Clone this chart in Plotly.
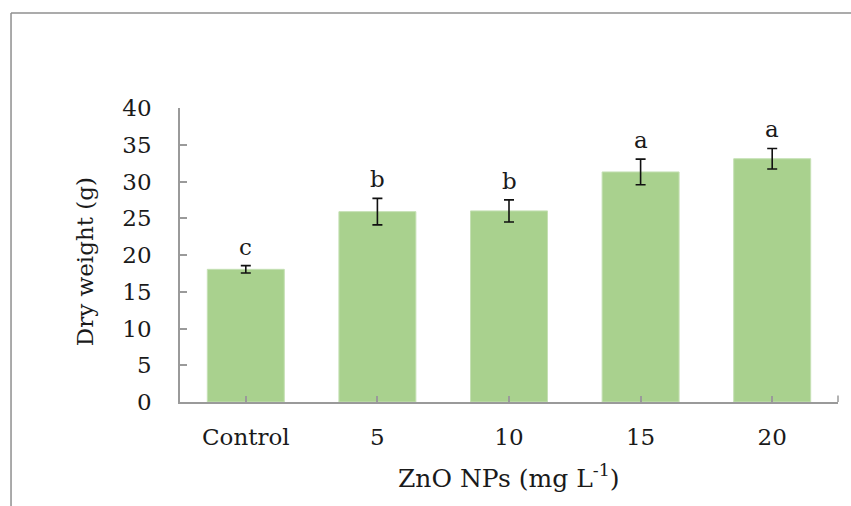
import plotly.graph_objects as go

categories = ["Control", "5", "10", "15", "20"]
dry_weight = [18.05, 25.9, 26.0, 31.3, 33.1]
std_err = [0.5, 1.8, 1.5, 1.75, 1.4]
letters = ["c", "b", "b", "a", "a"]
y_ticks = [0, 5, 10, 15, 20, 25, 30, 35, 40]

FONT = "DejaVu Serif"
TXT = "#1a1a1a"
AXIS = "#9a9a9a"

fig = go.Figure()
fig.add_trace(go.Bar(
    x=categories, y=dry_weight,
    marker=dict(color="#a9d18e", line=dict(color="#c5e0b4", width=1)),
    error_y=dict(type="data", array=std_err, visible=True, color="#111111",
                 thickness=1.6, width=5),
    showlegend=False,
))

for i, (v, e, t) in enumerate(zip(dry_weight, std_err, letters)):
    fig.add_annotation(x=i, y=v + e, text=t, showarrow=False, yanchor="bottom",
                       yshift=4, font=dict(family=FONT, size=23, color=TXT))

fig.add_annotation(xref="paper", yref="paper", x=-0.167, y=0.476,
                   text="Dry weight (g)", textangle=-90, showarrow=False,
                   font=dict(family=FONT, size=23, color=TXT))
fig.add_annotation(xref="paper", yref="paper", x=0.5, y=-0.255,
                   text="ZnO NPs (mg L<sup>-1</sup>)", showarrow=False,
                   yanchor="middle",
                   font=dict(family=FONT, size=25, color=TXT))

# outer frame (top and left edges visible)
fig.add_shape(type="line", xref="paper", yref="paper", x0=-0.2568, x1=1.03,
              y0=1.323, y1=1.323, line=dict(color="#8f8f8f", width=1.5))
fig.add_shape(type="line", xref="paper", yref="paper", x0=-0.2568, x1=-0.2568,
              y0=1.323, y1=-0.36, line=dict(color="#8f8f8f", width=1.5))
# end tick on the category axis
fig.add_shape(type="line", xref="paper", yref="paper", x0=1, x1=1,
              y0=0, y1=0.022, line=dict(color=AXIS, width=1.5))

fig.update_layout(
    width=851, height=506,
    margin=dict(l=180, r=13, t=108, b=104, autoexpand=False),
    paper_bgcolor="white", plot_bgcolor="white",
    bargap=0.415,
    font=dict(family=FONT, color=TXT),
)
fig.update_xaxes(
    type="category", automargin=False, range=[-0.5, len(categories) - 0.5],
    showline=True, linecolor=AXIS, linewidth=1.5,
    ticks="inside", ticklen=6, tickcolor=AXIS, tickwidth=1.5,
    tickfont=dict(family=FONT, size=23, color=TXT), tickangle=0,
    ticklabelstandoff=14, showgrid=False,
)
fig.update_yaxes(
    range=[0, 40], tickvals=y_ticks, automargin=False,
    showline=True, linecolor=AXIS, linewidth=1.5,
    ticks="inside", ticklen=7, tickcolor=AXIS, tickwidth=1.5,
    tickfont=dict(family=FONT, size=23, color=TXT),
    ticklabelstandoff=22, showgrid=False, zeroline=False,
)

fig.write_html("out.html")
